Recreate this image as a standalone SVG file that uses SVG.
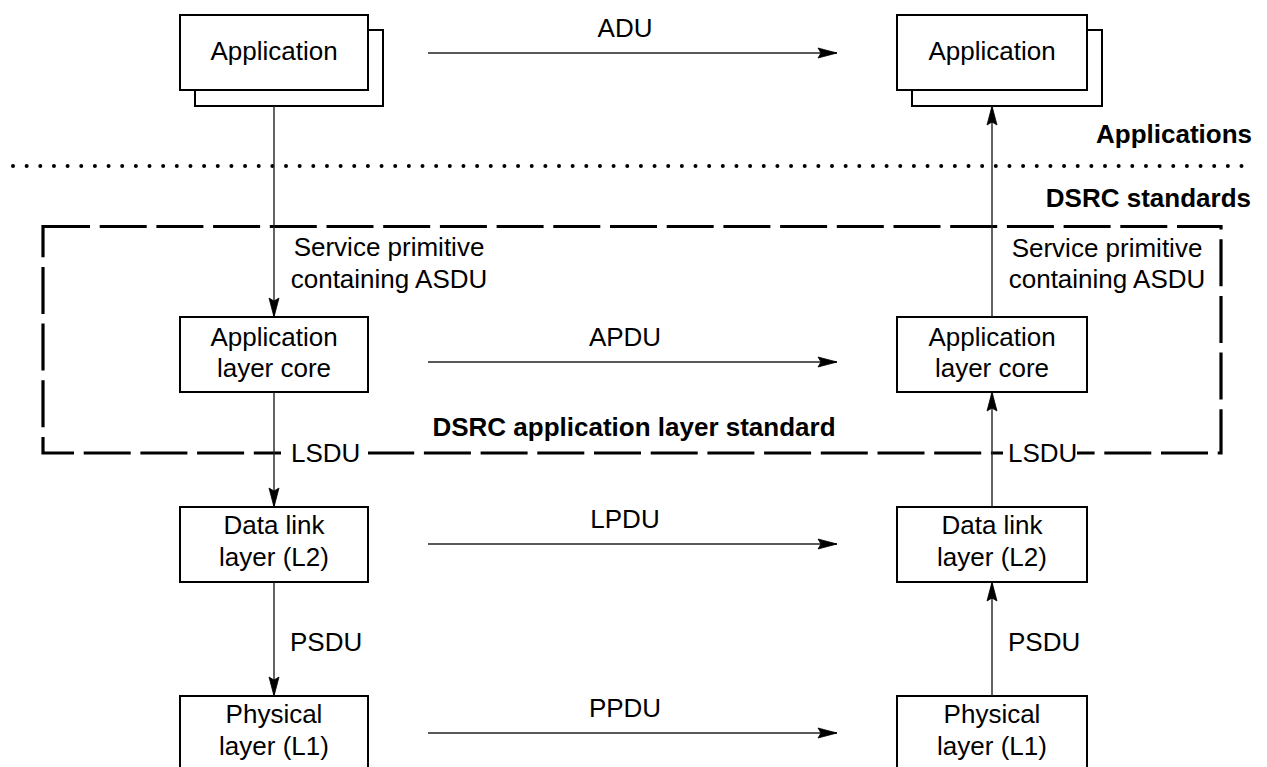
<svg xmlns="http://www.w3.org/2000/svg" width="1267" height="767" viewBox="0 0 1267 767">
  <style>
    text { font-family: "Liberation Sans", Arial, sans-serif; font-size: 26px; fill: #000; }
    .c { text-anchor: middle; }
    .r { text-anchor: end; }
    .b { font-weight: bold; }
    .box { fill: #fff; stroke: #000; stroke-width: 2; }
    .link { fill: none; stroke: #222; stroke-width: 1.4; marker-end: url(#arrow); }
    .sep { fill: none; stroke: #000; stroke-width: 4; stroke-linecap: round; stroke-dasharray: 0 13.65; }
    .frame { fill: none; stroke: #000; stroke-width: 3.2; stroke-dasharray: 47 9.7; }
  </style>
  <defs>
    <marker id="arrow" markerUnits="userSpaceOnUse" markerWidth="22" markerHeight="12" viewBox="-20 -6 22 12" refX="0" refY="0" orient="auto">
      <path d="M0,0 L-19,-5 L-16,0 L-19,5 Z" fill="#000" stroke="#000" stroke-width="0.8" stroke-linejoin="miter"/>
    </marker>
  </defs>

  <rect width="1267" height="767" fill="#fff"/>

  <!-- boundary between applications and DSRC standards -->
  <g id="boundary">
    <line class="sep" x1="13" y1="166" x2="1253" y2="166"/>
    <text class="r b" x="1252" y="143">Applications</text>
    <text class="r b" x="1251" y="207">DSRC standards</text>
  </g>

  <!-- scope of the application layer standard -->
  <g id="app-layer-scope">
    <path class="frame" d="M43,226.5 H1221 V453 H43 Z"/>
    <rect x="281" y="448" width="87" height="12" fill="#fff"/>
    <rect x="1003" y="448" width="74" height="12" fill="#fff"/>
    <text class="c b" x="634" y="436">DSRC application layer standard</text>
  </g>

  <!-- left stack -->
  <g id="app-left">
    <rect class="box" x="195" y="30" width="188" height="76"/>
    <rect class="box" x="180" y="15" width="188" height="75"/>
    <text class="c" x="274" y="60">Application</text>
  </g>
  <g id="core-left">
    <rect class="box" x="180" y="317" width="188" height="75"/>
    <text class="c" x="274" y="346">Application</text>
    <text class="c" x="274" y="377">layer core</text>
  </g>
  <g id="dll-left">
    <rect class="box" x="180" y="507" width="188" height="75"/>
    <text class="c" x="274" y="534">Data link</text>
    <text class="c" x="274" y="566">layer (L2)</text>
  </g>
  <g id="phy-left">
    <rect class="box" x="180" y="696" width="188" height="75"/>
    <text class="c" x="274" y="723">Physical</text>
    <text class="c" x="274" y="755">layer (L1)</text>
  </g>

  <!-- right stack -->
  <g id="app-right">
    <rect class="box" x="912" y="30" width="190" height="76"/>
    <rect class="box" x="897" y="15" width="190" height="75"/>
    <text class="c" x="992" y="60">Application</text>
  </g>
  <g id="core-right">
    <rect class="box" x="897" y="317" width="190" height="75"/>
    <text class="c" x="992" y="346">Application</text>
    <text class="c" x="992" y="377">layer core</text>
  </g>
  <g id="dll-right">
    <rect class="box" x="897" y="507" width="190" height="75"/>
    <text class="c" x="992" y="534">Data link</text>
    <text class="c" x="992" y="566">layer (L2)</text>
  </g>
  <g id="phy-right">
    <rect class="box" x="897" y="696" width="190" height="75"/>
    <text class="c" x="992" y="723">Physical</text>
    <text class="c" x="992" y="755">layer (L1)</text>
  </g>

  <!-- connectors -->
  <g id="connectors">
    <!-- peer-to-peer exchanges -->
    <line class="link" x1="428" y1="53" x2="837" y2="53"/>
    <line class="link" x1="428" y1="362" x2="837" y2="362"/>
    <line class="link" x1="428" y1="544" x2="837" y2="544"/>
    <line class="link" x1="428" y1="733" x2="837" y2="733"/>
    <!-- downward through the sending stack -->
    <line class="link" x1="274" y1="106" x2="274" y2="317"/>
    <line class="link" x1="274" y1="392" x2="274" y2="507"/>
    <line class="link" x1="274" y1="582" x2="274" y2="696"/>
    <!-- upward through the receiving stack -->
    <line class="link" x1="992" y1="317" x2="992" y2="106"/>
    <line class="link" x1="992" y1="507" x2="992" y2="392"/>
    <line class="link" x1="992" y1="696" x2="992" y2="582"/>

    <text class="c" x="625" y="37">ADU</text>
    <text class="c" x="625" y="346">APDU</text>
    <text class="c" x="625" y="528">LPDU</text>
    <text class="c" x="625" y="717">PPDU</text>

    <text class="c" x="389" y="256">Service primitive</text>
    <text class="c" x="389" y="288">containing ASDU</text>
    <text class="c" x="1107" y="257">Service primitive</text>
    <text class="c" x="1107" y="288">containing ASDU</text>

    <text x="291" y="462">LSDU</text>
    <text x="1008" y="462">LSDU</text>
    <text x="290" y="651">PSDU</text>
    <text x="1008" y="651">PSDU</text>
  </g>
</svg>
